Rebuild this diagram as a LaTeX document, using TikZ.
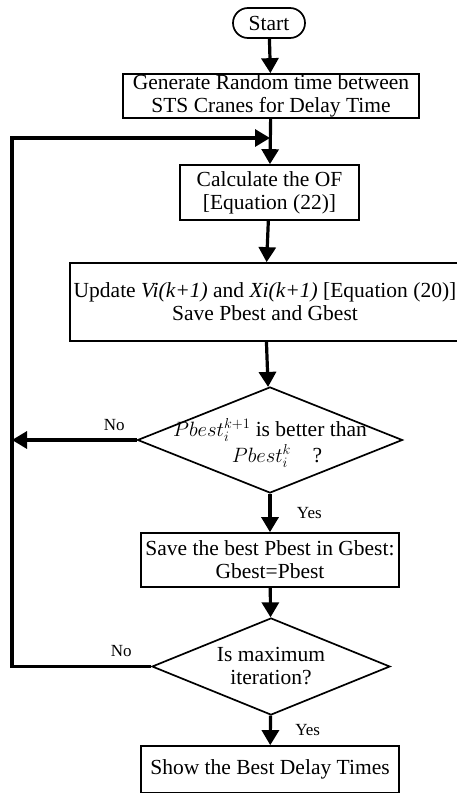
\documentclass[tikz,border=0pt]{standalone}
\usepackage{fontspec}
\setmainfont{Liberation Serif}
\usepackage{tikz}
\usetikzlibrary{
	positioning,
	arrows.meta,
	shapes.geometric
}

\begin{document}
\begin{tikzpicture}[x=1pt, y=-1pt,
				font=\fontsize{21.5}{23}\selectfont,
				block/.style={draw, line width=1.7pt, align=center, inner sep=0pt},
				terminal/.style={block, rounded corners=15pt, minimum width=72pt, minimum height=30pt},
				decision/.style={diamond, draw, line width=1.7pt, inner sep=0pt},
				dtext/.style={align=center, inner sep=0pt},
				flow/.style={line width=3.2pt, -{Triangle[length=15pt, width=17pt]}},
				tag/.style={font=\fontsize{17}{19}\selectfont}
			]
				\useasboundingbox (0,0) rectangle (457,793);
				% 框
				\node[terminal] (start) at (269,23) {Start};
				\node[block, minimum width=296pt, minimum height=44pt] (generate) at (271,96)
					{Generate Random time between\\STS Cranes for Delay Time};
				\node[block, minimum width=179pt, minimum height=55pt] (calc) at (269.5,192.5)
					{Calculate the OF\\{}[Equation (22)]};
				\node[block, minimum width=390pt, minimum height=78pt] (update) at (265,302)
					{Update \textit{Vi(k+1)} and \textit{Xi(k+1)} [Equation (20)]\\Save Pbest and Gbest};
				\node[decision, minimum width=265pt, minimum height=106pt] (better) at (270,440) {};
				\node[dtext] at ([yshift=-3pt]better.center)
					{$Pbest_i^{k+1}$ is better than\\[3pt]\hspace*{14pt}$Pbest_i^{k}$\quad ?};
				\node[block, minimum width=258pt, minimum height=54pt] (save) at (270,560)
					{Save the best Pbest in Gbest:\\Gbest=Pbest};
				\node[decision, minimum width=238pt, minimum height=97pt] (maxit) at (271,666.5) {};
				\node[dtext] at (maxit.center) {Is maximum\\iteration?};
				\node[block, minimum width=258pt, minimum height=47pt] (show) at (270,769.5)
					{Show the Best Delay Times};
				% 节点
				\coordinate (loop-left) at (12,138);
				\coordinate (loop-in)   at (270,138);
				% 箭头
				\draw[flow] (start)    -- (generate);
				\draw[flow] (generate) -- (calc);
				\draw[flow] (calc)     -- (update);
				\draw[flow] (update)   -- (better);
				\draw[flow] (better)   -- (save)  node[tag, midway, right=22pt] {Yes};
				\draw[flow] (save)     -- (maxit);
				\draw[flow] (maxit)    -- (show)  node[tag, midway, right=20pt] {Yes};
				\draw[flow] (better.west) -- (better.west -| loop-left) node[tag, pos=0.18, above=4pt] {No};
				\draw[flow] (maxit.west) -| (loop-left) -- (loop-in);
				\node[tag, above left=6pt and 16pt] at (maxit.west) {No};
			\end{tikzpicture}
\end{document}
